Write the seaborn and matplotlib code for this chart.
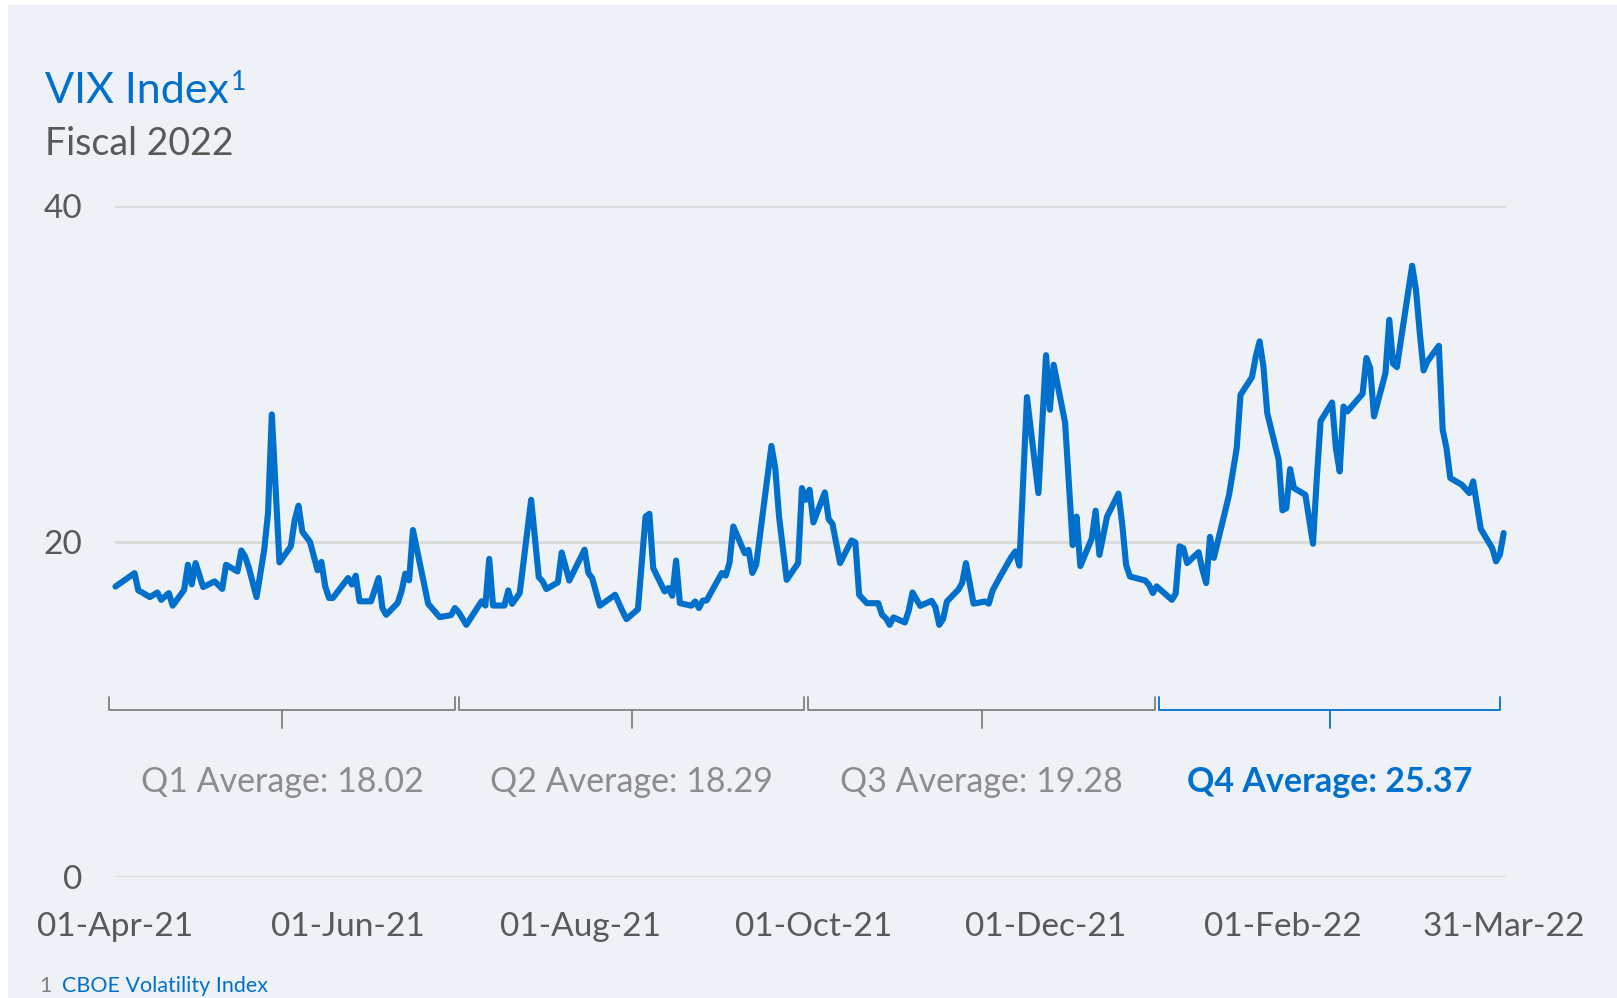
import pandas as pd
import matplotlib.pyplot as plt
import matplotlib.transforms as mtransforms
from matplotlib.patches import Rectangle
import seaborn as sns

# VIX close as (days after 01-Apr-21, value)
day_offsets = [
    0, 5, 6, 7, 9, 11, 12, 14, 15, 18, 19, 20, 21, 23, 26, 28, 29, 32, 33, 34,
    35, 37, 39, 40, 41, 43, 46, 47, 48, 49, 51, 53, 54, 55, 56, 57, 61, 62, 63, 64,
    67, 69, 70, 71, 74, 75, 76, 77, 78, 82, 85, 88, 89, 90, 92, 96, 97, 98, 99, 102,
    103, 104, 106, 109, 111, 112, 113, 116, 117, 119, 123, 124, 125, 127, 131, 133, 134, 137, 139, 140,
    141, 144, 145, 146, 147, 148, 151, 152, 153, 154, 155, 159, 160, 161, 162, 165, 166, 167, 168, 172,
    173, 174, 176, 179, 180, 181, 182, 183, 186, 187, 188, 190, 193, 194, 195, 197, 200, 201, 202, 203,
    204, 207, 208, 209, 211, 214, 215, 216, 217, 218, 221, 222, 223, 225, 228, 229, 230, 232, 235, 236,
    237, 239, 242, 244, 245, 246, 249, 251, 252, 253, 256, 257, 258, 260, 263, 264, 265, 266, 270, 271,
    272, 273, 277, 278, 279, 280, 281, 284, 285, 286, 287, 288, 292, 294, 295, 298, 299, 300, 301, 302,
    305, 306, 307, 308, 309, 312, 314, 315, 316, 319, 320, 321, 322, 323, 327, 328, 329, 330, 333, 334,
    335, 336, 337, 340, 341, 342, 343, 344, 347, 348, 349, 350, 353, 355, 356, 358, 361, 362, 363, 364,
]
vix = [
    17.33, 18.13, 17.10, 16.98, 16.70, 16.98, 16.54, 16.94, 16.19, 17.13, 18.63, 17.46, 18.73, 17.30, 17.64, 17.19, 18.63, 18.23, 19.48, 19.12,
    18.42, 16.70, 19.52, 21.70, 27.59, 18.77, 19.73, 21.30, 22.15, 20.60, 20.00, 18.30, 18.80, 17.34, 16.65, 16.65, 17.84, 17.45, 17.98, 16.45,
    16.45, 17.84, 16.05, 15.65, 16.35, 17.04, 18.10, 17.70, 20.70, 16.30, 15.51, 15.63, 16.05, 15.80, 15.05, 16.45, 16.20, 18.98, 16.20, 16.20,
    17.10, 16.30, 16.94, 22.50, 17.89, 17.64, 17.18, 17.58, 19.36, 17.69, 19.53, 18.14, 17.83, 16.19, 16.84, 15.84, 15.39, 15.98, 21.50, 21.67,
    18.43, 17.04, 17.24, 16.78, 18.88, 16.34, 16.19, 16.44, 16.05, 16.50, 16.50, 18.14, 17.98, 18.73, 20.91, 19.32, 19.52, 18.14, 18.63, 25.71,
    24.39, 21.50, 17.73, 18.73, 23.20, 22.50, 23.10, 21.15, 22.94, 21.35, 21.07, 18.73, 20.08, 19.96, 16.84, 16.34, 16.34, 15.65, 15.45, 15.05,
    15.49, 15.19, 15.90, 16.98, 16.18, 16.48, 16.10, 15.05, 15.39, 16.44, 17.14, 17.54, 18.73, 16.31, 16.44, 16.31, 17.10, 17.94, 19.13, 19.43,
    18.58, 28.62, 22.90, 31.12, 27.87, 30.55, 27.10, 19.80, 21.50, 18.55, 20.20, 21.85, 19.22, 21.50, 22.87, 21.00, 18.62, 17.93, 17.69, 17.43,
    16.94, 17.34, 16.54, 16.91, 19.73, 19.62, 18.73, 19.38, 18.33, 17.54, 20.29, 19.04, 22.80, 25.58, 28.76, 29.81, 31.04, 31.94, 30.45, 27.67,
    24.89, 21.87, 22.00, 24.33, 23.20, 22.80, 19.88, 23.80, 27.20, 28.30, 25.58, 24.19, 28.06, 27.77, 28.82, 30.95, 30.36, 27.47, 30.05, 33.23,
    30.61, 30.41, 31.94, 36.45, 35.02, 32.45, 30.21, 30.75, 31.68, 26.68, 25.58, 23.80, 23.40, 22.90, 23.60, 20.76, 19.62, 18.83, 19.23, 20.52,
]
start = pd.Timestamp("2021-04-01")
df = pd.DataFrame({"date": start + pd.to_timedelta(day_offsets, unit="D"), "vix": vix})

quarter_labels = ["Q1 Average: 18.02", "Q2 Average: 18.29", "Q3 Average: 19.28", "Q4 Average: 25.37"]
tick_dates = ["2021-04-01", "2021-06-01", "2021-08-01", "2021-10-01", "2021-12-01", "2022-02-01", "2022-03-31"]
tick_labels = ["01-Apr-21", "01-Jun-21", "01-Aug-21", "01-Oct-21", "01-Dec-21", "01-Feb-22", "31-Mar-22"]

BLUE = "#0070CC"
GREY = "#595959"
BG = "#EEF1F6"

sns.set_style("white")
plt.rcParams["font.family"] = ["Lato", "DejaVu Sans"]

fig = plt.figure(figsize=(16.17, 9.98), dpi=100)
fig.patch.set_facecolor("white")
fig.patches.append(Rectangle((8 / 1617, 0), 1, 1 - 5 / 998, transform=fig.transFigure,
                             facecolor=BG, edgecolor="none", zorder=-10))

ax = fig.add_axes([0.0714, 0.1209, 0.8597, 0.6725])
ax.set_facecolor("none")
sns.lineplot(data=df, x="date", y="vix", ax=ax, color=BLUE, linewidth=4.4, clip_on=False)

ax.set_xlim(pd.Timestamp("2021-04-01"), pd.Timestamp("2022-03-31 12:00"))
ax.set_ylim(0, 40)
ax.set_yticks([0, 20, 40])
ax.set_xticks(pd.to_datetime(tick_dates))
ax.set_xticklabels(tick_labels)
ax.tick_params(axis="both", length=0, labelsize=24, labelcolor=GREY)
ax.tick_params(axis="y", pad=24)
ax.tick_params(axis="x", pad=25)
ax.grid(axis="y", color="#D9D9D9", linewidth=2)
ax.set_axisbelow(True)
ax.set_xlabel("")
ax.set_ylabel("")
sns.despine(ax=ax, left=True, bottom=True)

# quarter brackets
trans = mtransforms.blended_transform_factory(ax.transAxes, ax.transData)
edges = [-0.0045, 0.2456, 0.4970, 0.7490, 0.9978]
for i, label in enumerate(quarter_labels):
    x0 = edges[i] + (0.0015 if i > 0 else 0)
    x1 = edges[i + 1] - 0.0015
    xm = (x0 + x1) / 2
    col = BLUE if i == 3 else "#7F7F7F"
    ax.plot([x0, x0, x1, x1], [10.75, 10.0, 10.0, 10.75], color=col, lw=1.3, transform=trans, clip_on=False)
    ax.plot([xm, xm], [10.0, 8.9], color=col, lw=1.3, transform=trans, clip_on=False)
    ax.text(xm, 5.7, label, transform=trans, ha="center", va="center", fontsize=24.5,
            color=BLUE if i == 3 else "#8C8C8C", fontweight="bold" if i == 3 else "normal")

title = fig.text(44 / 1568, 1 - 88 / 968, "VIX Index", fontsize=31, color=BLUE, va="center", ha="left")
fig.canvas.draw()
bb = title.get_window_extent().transformed(fig.transFigure.inverted())
fig.text(bb.x1 + 0.001, 1 - 80 / 968, "1", fontsize=19, color=BLUE, va="center", ha="left")
fig.text(44 / 1568, 1 - 140 / 968, "Fiscal 2022", fontsize=27, color=GREY, va="center", ha="left")
fig.text(38 / 1568, 2 / 998, "1", fontsize=15.5, color="#7F7F7F", va="bottom", ha="left")
fig.text(60 / 1568, 2 / 998, "CBOE Volatility Index", fontsize=15.5, color=BLUE, va="bottom", ha="left")

fig.savefig("out.png", dpi=100, facecolor=fig.get_facecolor())
